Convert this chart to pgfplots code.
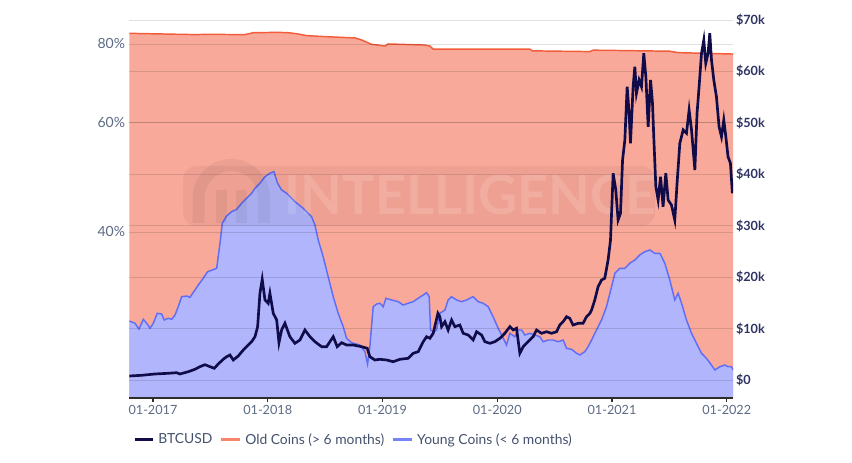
\documentclass[border=0pt]{standalone}
\usepackage{pgfplots}
\pgfplotsset{compat=1.18}
\usepackage{pgfplotstable}
\usepackage{fontspec}
\setmainfont{Lato}
\definecolor{oFill}{HTML}{F9A99A}
\definecolor{oLine}{HTML}{F25C3B}
\definecolor{bFill}{HTML}{B1B5FB}
\definecolor{bLine}{HTML}{5F6EF6}
\definecolor{navy}{HTML}{100C4A}
\definecolor{lblL}{HTML}{5C6A85}
\definecolor{lblR}{HTML}{2E3262}
\definecolor{legT}{HTML}{45526E}
\definecolor{axisC}{HTML}{2D2D2D}

% Old coins (> 6 months), percent
\pgfplotstableread{
t p
2016.794 83.2
2017.381 82.8
2017.453 82.9
2017.801 82.8
2017.874 83.4
2018.092 83.5
2018.179 83.4
2018.266 83.0
2018.339 82.5
2018.498 82.2
2018.760 81.8
2018.818 81.2
2018.905 79.9
2018.963 79.7
2019.021 79.4
2019.050 80.0
2019.369 79.7
2019.413 79.4
2019.442 78.5
2020.284 78.5
2020.308 78.0
2020.807 77.8
2020.836 78.2
2021.503 77.9
2021.576 77.5
2022.055 77.1
}\oldcoins

% Young coins (< 6 months), percent
\pgfplotstableread{
t p
2016.794 28.81
2016.843 28.57
2016.878 27.97
2016.916 28.99
2016.945 28.57
2016.974 28.05
2017.003 28.57
2017.037 29.64
2017.076 29.56
2017.098 28.92
2017.133 29.10
2017.163 28.99
2017.192 29.45
2017.220 30.37
2017.250 31.51
2017.294 31.59
2017.322 31.44
2017.366 32.30
2017.395 32.90
2017.438 33.72
2017.476 34.55
2017.517 34.77
2017.555 34.99
2017.584 38.37
2017.604 41.31
2017.642 42.43
2017.686 43.11
2017.729 43.49
2017.773 44.47
2017.816 45.29
2017.860 46.14
2017.889 46.99
2017.932 47.87
2017.976 49.04
2018.019 49.67
2018.054 49.96
2018.086 47.87
2018.121 46.70
2018.165 46.14
2018.237 44.73
2018.309 43.65
2018.382 42.32
2018.411 41.05
2018.440 38.84
2018.483 36.52
2018.527 33.92
2018.571 31.51
2018.614 29.64
2018.658 28.21
2018.687 27.03
2018.731 26.59
2018.803 26.37
2018.847 25.73
2018.870 24.58
2018.890 26.21
2018.919 30.37
2018.949 30.67
2018.977 30.76
2019.006 30.37
2019.030 31.33
2019.079 31.13
2019.137 30.94
2019.180 30.56
2019.224 30.76
2019.268 30.94
2019.311 31.33
2019.355 31.71
2019.384 31.98
2019.407 31.51
2019.419 27.87
2019.448 27.70
2019.471 27.87
2019.500 29.64
2019.544 30.00
2019.572 31.13
2019.602 31.51
2019.646 31.13
2019.689 30.94
2019.733 31.13
2019.790 31.51
2019.834 30.94
2019.877 30.76
2019.921 30.37
2019.964 29.27
2020.008 28.05
2020.038 27.36
2020.081 26.37
2020.110 27.53
2020.153 27.19
2020.182 27.87
2020.212 27.87
2020.241 27.36
2020.284 27.53
2020.328 27.36
2020.371 27.19
2020.400 26.69
2020.444 26.86
2020.487 26.86
2020.531 26.69
2020.574 26.86
2020.604 26.05
2020.647 25.96
2020.691 25.58
2020.720 25.42
2020.763 25.73
2020.792 26.21
2020.822 26.86
2020.865 27.87
2020.909 28.92
2020.952 30.37
2020.996 32.69
2021.025 34.35
2021.068 34.99
2021.112 34.99
2021.155 35.65
2021.199 36.08
2021.242 36.75
2021.286 37.20
2021.330 37.43
2021.373 36.98
2021.417 36.98
2021.460 35.65
2021.504 33.51
2021.547 31.13
2021.576 31.91
2021.606 30.76
2021.649 28.92
2021.693 27.53
2021.736 26.54
2021.780 25.58
2021.823 25.11
2021.867 24.49
2021.896 24.05
2021.939 24.34
2021.983 24.49
2022.012 24.34
2022.041 24.34
2022.055 24.05
}\youngcoins

% BTCUSD price, USD
\pgfplotstableread{
t d
2016.794 780
2016.902 914
2017.017 1167
2017.133 1303
2017.206 1419
2017.235 1167
2017.308 1614
2017.366 2081
2017.409 2586
2017.453 2975
2017.497 2586
2017.534 2275
2017.569 3111
2017.612 4025
2017.642 4530
2017.671 4861
2017.700 3889
2017.743 4667
2017.787 5833
2017.830 6805
2017.860 7447
2017.889 8419
2017.912 10364
2017.932 16858
2017.952 19580
2017.976 15555
2018.004 14914
2018.019 16858
2018.048 12969
2018.078 11666
2018.098 7253
2018.121 9722
2018.150 11025
2018.193 8419
2018.237 7136
2018.281 7778
2018.324 9722
2018.368 8419
2018.411 7447
2018.470 6475
2018.513 6475
2018.571 8419
2018.605 6475
2018.644 7253
2018.687 6805
2018.745 6805
2018.818 6475
2018.867 6164
2018.890 4530
2018.934 3889
2018.977 4025
2019.036 3889
2019.093 3558
2019.152 4025
2019.224 4219
2019.268 5192
2019.311 5503
2019.355 7447
2019.384 8419
2019.413 8108
2019.442 9080
2019.483 12969
2019.500 12308
2019.515 10364
2019.544 11336
2019.572 9722
2019.602 11666
2019.631 10364
2019.674 10694
2019.703 9080
2019.747 8750
2019.790 7778
2019.820 9391
2019.863 8750
2019.892 7447
2019.936 7136
2019.979 7447
2020.023 8108
2020.066 9080
2020.110 10364
2020.139 9722
2020.168 10053
2020.197 5192
2020.226 6475
2020.269 7447
2020.313 8419
2020.342 9722
2020.386 9080
2020.430 9391
2020.473 9080
2020.517 9391
2020.545 10694
2020.574 11336
2020.604 12308
2020.632 11997
2020.661 10694
2020.705 11025
2020.748 11025
2020.778 12308
2020.807 12969
2020.822 13611
2020.850 15555
2020.879 18141
2020.909 19444
2020.937 19775
2020.966 23333
2020.987 27222
2021.010 40191
2021.033 36944
2021.053 31110
2021.074 32413
2021.092 42777
2021.112 46666
2021.132 57030
2021.149 51858
2021.161 46024
2021.184 57030
2021.199 60919
2021.213 55746
2021.236 58332
2021.257 57030
2021.277 63524
2021.295 58974
2021.315 49253
2021.336 58332
2021.353 53802
2021.364 47307
2021.382 37585
2021.402 34999
2021.423 39530
2021.445 33697
2021.469 40191
2021.489 34999
2021.518 34027
2021.547 31110
2021.567 38247
2021.591 46024
2021.620 48610
2021.649 47968
2021.672 52499
2021.693 48610
2021.722 40832
2021.741 51858
2021.759 57030
2021.780 63524
2021.800 66110
2021.817 61580
2021.837 63524
2021.852 67413
2021.867 62221
2021.887 58332
2021.910 55085
2021.933 49253
2021.954 47307
2021.974 50554
2021.992 47307
2022.011 43419
2022.032 42136
2022.049 36302
}\btc

\begin{document}
\begin{tikzpicture}[x=1pt,y=1pt]
\path[use as bounding box] (0,0) rectangle (639,347.25);
% ---------- left axis: coin shares (log scale) ----------
\begin{axis}[
  at={(97pt,48.75pt)}, anchor=south west,
  scale only axis, width=452.8pt, height=283.5pt,
  xmin=2016.794, xmax=2022.055,
  ymode=log, ymin=21.69, ymax=87.4,
  axis lines*=left,
  x axis line style={draw=axisC, line width=1.3pt},
  y axis line style={draw=none},
  xtick={2017,2018,2019,2020,2021,2022},
  xticklabels={01-2017,01-2018,01-2019,01-2020,01-2021,01-2022},
  ytick={40,60,80}, yticklabels={40\%,60\%,80\%},
  yminorticks=false,
  tick align=outside, major tick length=3pt,
  xtick style={draw=axisC, line width=0.9pt},
  ytick style={draw=none},
  ymajorgrids, xmajorgrids=false,
  major grid style={draw=black, opacity=0.12, line width=0.7pt},
  xticklabel style={font=\fontsize{9.5}{11}\selectfont, text=lblL, inner sep=2.5pt},
  yticklabel style={font=\fontsize{10.5}{12}\selectfont, text=lblL, inner sep=0pt},
  axis on top,
]
\addplot[fill=oFill, draw=none] table[x=t,y=p]{\oldcoins} -- (rel axis cs:1,0) -- (rel axis cs:0,0) -- cycle;
\addplot[fill=bFill, draw=none] table[x=t,y=p]{\youngcoins} -- (rel axis cs:1,0) -- (rel axis cs:0,0) -- cycle;
\addplot[draw=oLine, line width=1.1pt] table[x=t,y=p]{\oldcoins};
\addplot[draw=bLine, line width=1.1pt] table[x=t,y=p]{\youngcoins};
\end{axis}
% ---------- watermark ----------
\fill[black, opacity=0.045, rounded corners=10pt] (137.25,177.75) rectangle (491.25,222.75);
\draw[black, opacity=0.05, line width=9pt] (149,180) -- (149,199) arc (180:0:24.5) -- (198,180);
\draw[black, opacity=0.05, line width=8pt] (166,180) -- (166,205) (181,180) -- (181,205);
\node[anchor=west, inner sep=0pt, font=\fontsize{40.5}{40.5}\selectfont\bfseries, text=white, opacity=0.13] at (213.5,201) {INTELLIGENCE};
% ---------- right axis: BTCUSD ----------
\begin{axis}[
  at={(97pt,48.75pt)}, anchor=south west,
  scale only axis, width=452.8pt, height=283.5pt,
  xmin=2016.794, xmax=2022.055,
  ymin=-3500, ymax=70000,
  axis x line=none,
  axis y line*=right,
  y axis line style={draw=none},
  scaled y ticks=false,
  ytick={0,10000,20000,30000,40000,50000,60000,70000},
  yticklabels={\$0,\$10k,\$20k,\$30k,\$40k,\$50k,\$60k,\$70k},
  ytick style={draw=none},
  major tick length=0pt,
  ymajorgrids,
  major grid style={draw=black, opacity=0.12, line width=0.7pt},
  yticklabel style={font=\fontsize{9.5}{11}\selectfont\bfseries, text=lblR, inner sep=2pt},
  legend style={at={(axis description cs:0.0056,-0.111)}, anchor=west,
    draw=none, fill=none, inner sep=0pt,
    font=\fontsize{10.4}{12}\selectfont, text=legT,
    legend columns=-1,
    nodes={inner sep=0pt},
    /tikz/every even column/.append style={column sep=5.5pt},
    /tikz/every odd column/.append style={column sep=2.8pt}},
  legend image code/.code={\draw[#1, line width=2.3pt] (0pt,0pt) -- (14pt,0pt);},
]
\addplot[draw=navy, line width=2pt] table[x=t,y=d]{\btc};
\addlegendentry{BTCUSD}
\addlegendimage{draw=oLine!75}
\addlegendentry{Old Coins (> 6 months)}
\addlegendimage{draw=bLine!85}
\addlegendentry{Young Coins (< 6 months)}
\end{axis}
\end{tikzpicture}
\end{document}
